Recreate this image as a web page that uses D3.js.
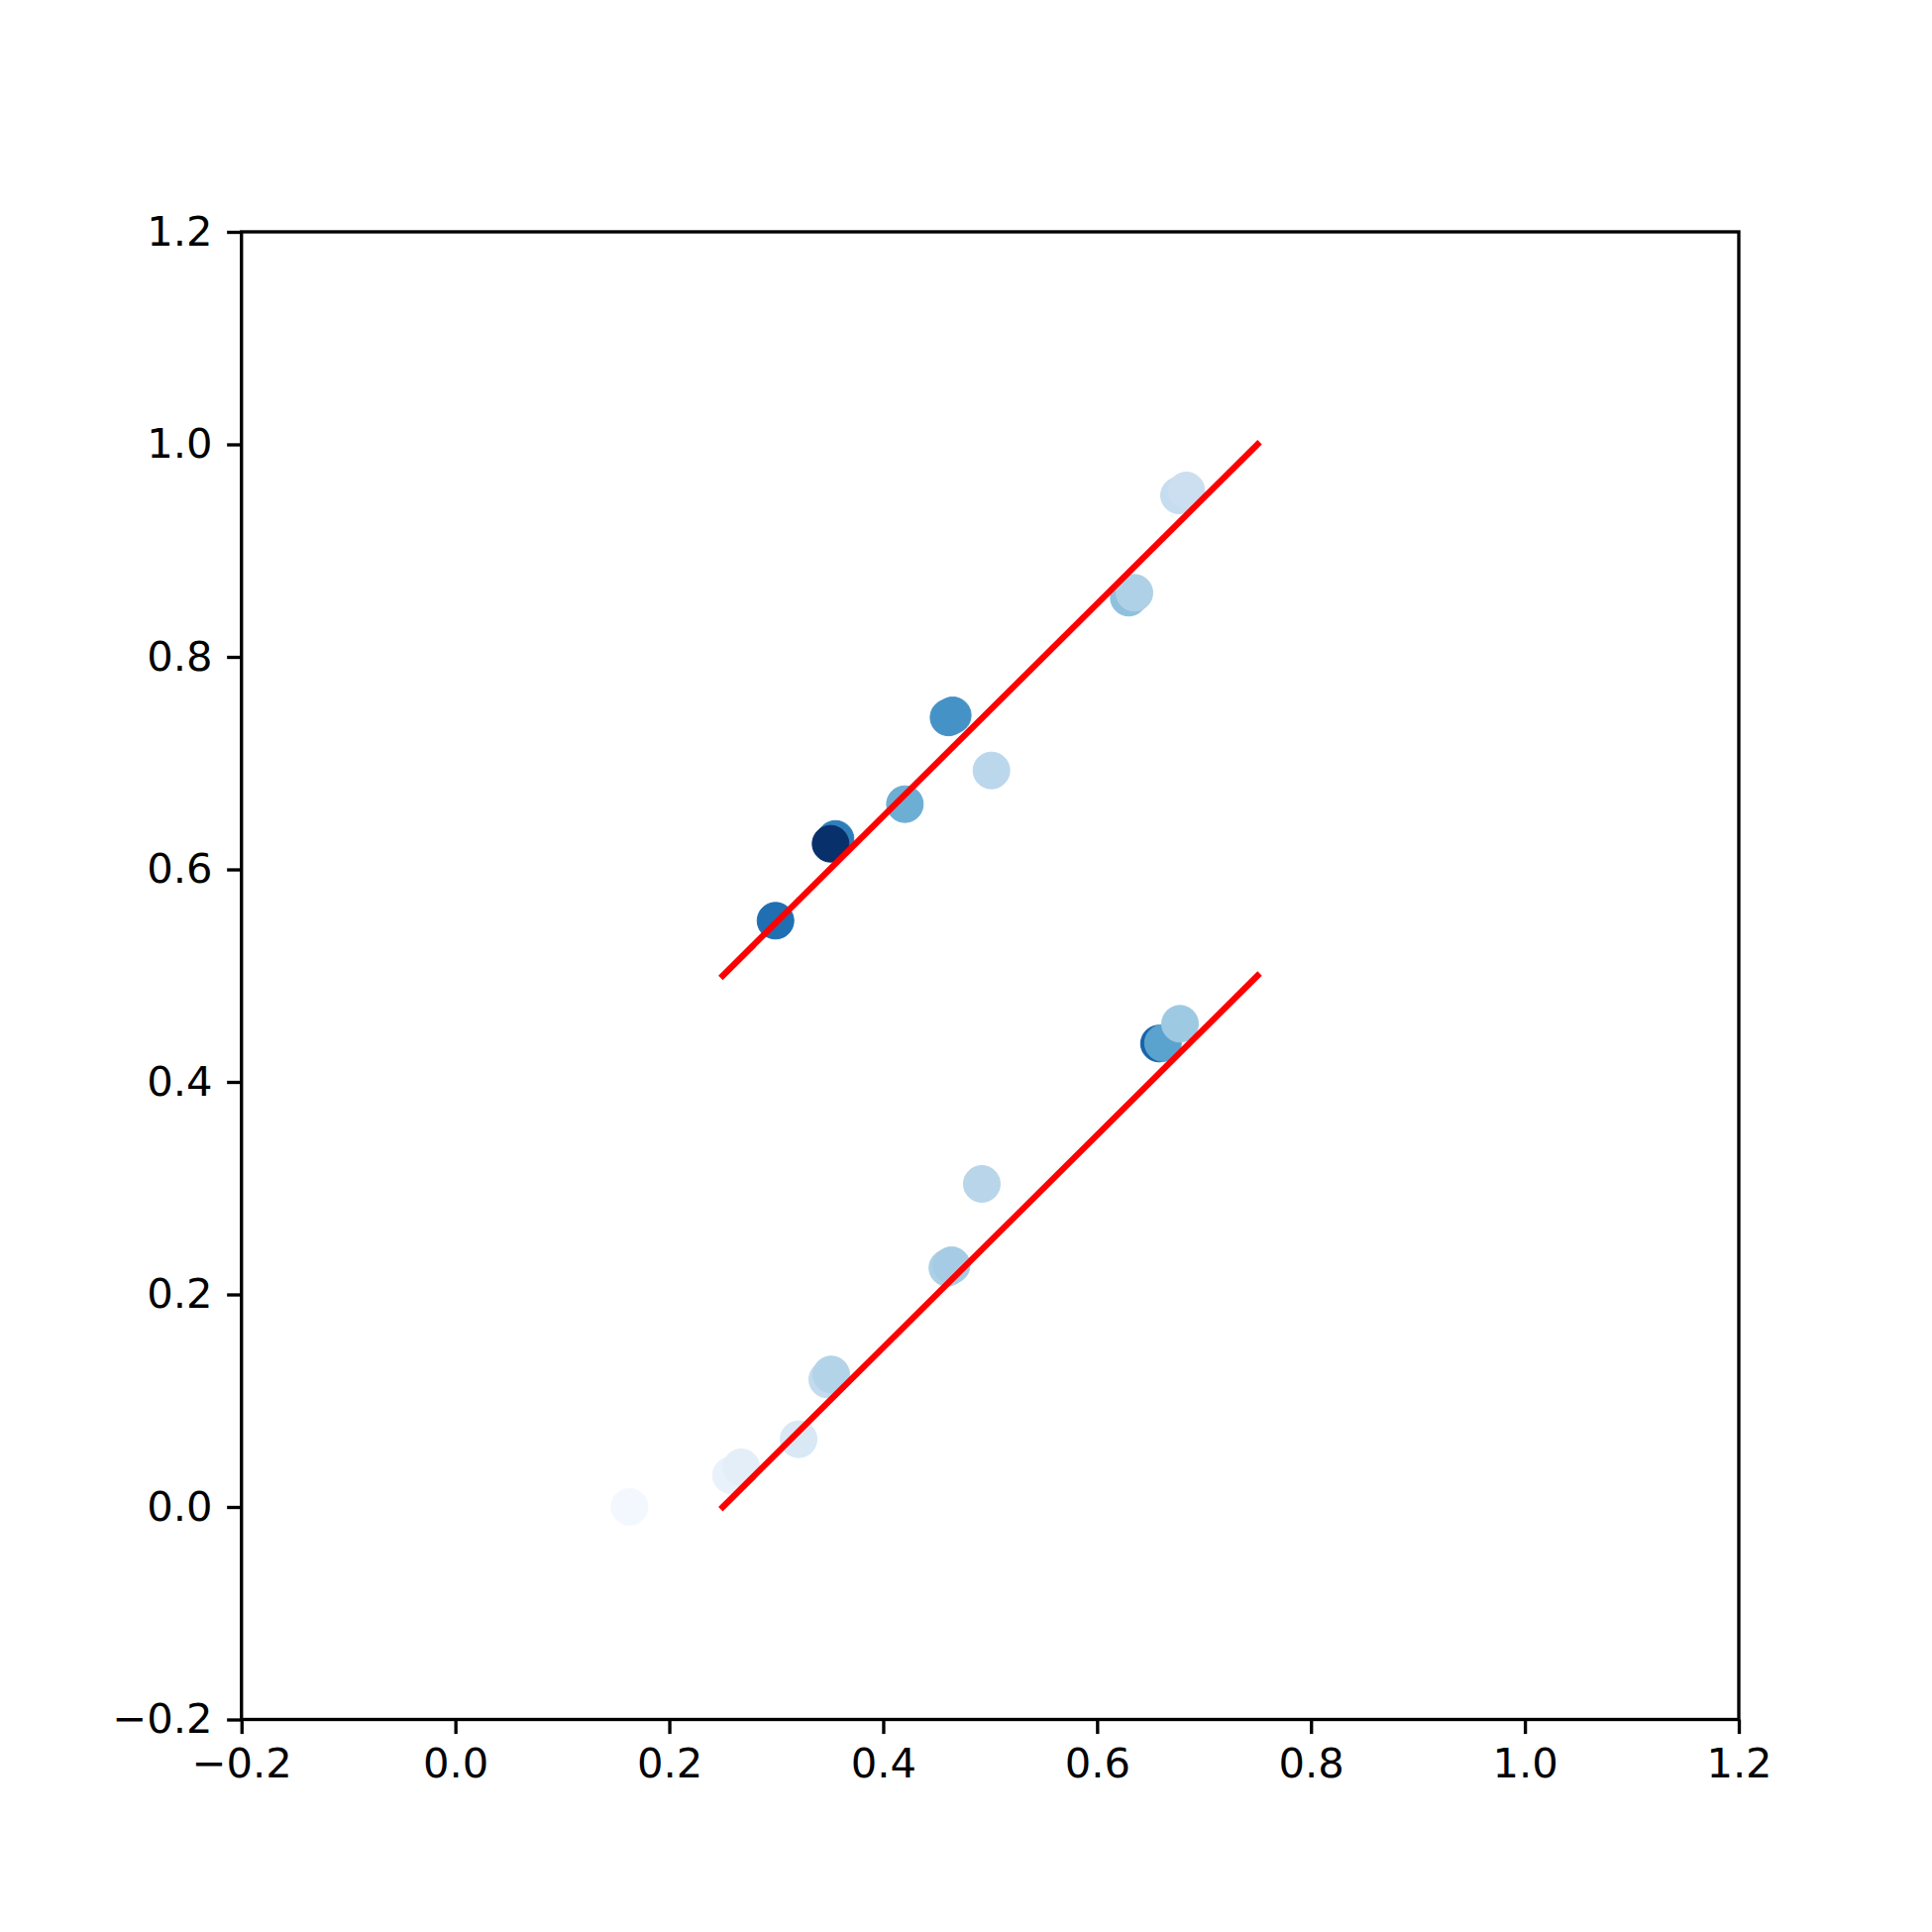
<!DOCTYPE html>
<html>
<head>
<meta charset="utf-8">
<script src="https://cdn.jsdelivr.net/npm/d3@7"></script>
<style>
  html, body { margin: 0; padding: 0; background: #ffffff; }
  svg { display: block; }
  .tick text { font-family: "DejaVu Sans", sans-serif; }
</style>
</head>
<body>
<svg id="chart" width="1950" height="1950"></svg>
<script>
// ---- data ----
const pointX = [0.2993, 0.3554, 0.3508, 0.4203, 0.4611, 0.4650, 0.5012,
                0.6296, 0.6349, 0.6766, 0.6834,
                0.6579, 0.6616, 0.6775,
                0.4922, 0.4600, 0.4640,
                0.3477, 0.3514, 0.3209, 0.2576, 0.2674, 0.1628];
const pointY = [0.5517, 0.6287, 0.6241, 0.6614, 0.7430, 0.7450, 0.6931,
                0.8557, 0.8603, 0.9520, 0.9566,
                0.4361, 0.4366, 0.4547,
                0.3040, 0.2250, 0.2275,
                0.1200, 0.1247, 0.0637, 0.0298, 0.0373, 0.0000];
const pointC = [0.76, 0.70, 1.00, 0.50, 0.62, 0.62, 0.28,
                0.41, 0.32, 0.24, 0.22,
                0.80, 0.55, 0.37,
                0.29, 0.33, 0.35,
                0.25, 0.31, 0.15, 0.07, 0.10, 0.02];
const lineStartX = [0.25, 0.25];
const lineStartY = [0.5, 0.0];
const lineEndX = [0.75, 0.75];
const lineEndY = [1.0, 0.5];
const xTicks = [-0.2, 0.0, 0.2, 0.4, 0.6, 0.8, 1.0, 1.2];
const yTicks = [-0.2, 0.0, 0.2, 0.4, 0.6, 0.8, 1.0, 1.2];

// ---- layout ----
const mLeft = 243.75, mRight = 1755, mTop = 234, mBottom = 1735.5;
const svg = d3.select("#chart");

const x = d3.scaleLinear().domain([-0.2, 1.2]).range([mLeft, mRight]);
const y = d3.scaleLinear().domain([-0.2, 1.2]).range([mBottom, mTop]);
const color = d3.scaleSequential(d3.interpolateBlues).domain([0, 1]);

// clip
svg.append("defs").append("clipPath").attr("id", "clip")
  .append("rect").attr("x", mLeft).attr("y", mTop)
  .attr("width", mRight - mLeft).attr("height", mBottom - mTop);

const plot = svg.append("g").attr("clip-path", "url(#clip)");

// points
const pts = pointX.map((v, i) => ({x: v, y: pointY[i], c: pointC[i]}));
plot.selectAll("circle.pt").data(pts).enter().append("circle")
  .attr("class", "pt")
  .attr("cx", d => x(d.x))
  .attr("cy", d => y(d.y))
  .attr("r", 18.5)
  .attr("fill", d => color(d.c))
  .attr("stroke", d => color(d.c))
  .attr("stroke-width", 1);

// red lines
const lines = lineStartX.map((v, i) => ({x1: v, y1: lineStartY[i], x2: lineEndX[i], y2: lineEndY[i]}));
plot.selectAll("line.fit").data(lines).enter().append("line")
  .attr("class", "fit")
  .attr("x1", d => x(d.x1)).attr("y1", d => y(d.y1))
  .attr("x2", d => x(d.x2)).attr("y2", d => y(d.y2))
  .attr("stroke", "#ff0000")
  .attr("stroke-width", 6.25)
  .attr("stroke-linecap", "square");

// axes
const fmt = d3.format(".1f");
const tickLen = 14.6, tickPad = 14.6;
const xAxis = svg.append("g").attr("transform", `translate(0,${mBottom})`)
  .call(d3.axisBottom(x).tickValues(xTicks).tickFormat(fmt).tickSize(tickLen).tickPadding(tickPad));
const yAxis = svg.append("g").attr("transform", `translate(${mLeft},0)`)
  .call(d3.axisLeft(y).tickValues(yTicks).tickFormat(fmt).tickSize(tickLen).tickPadding(tickPad));

[xAxis, yAxis].forEach(g => {
  g.select(".domain").remove();
  g.selectAll(".tick line").attr("stroke", "#000").attr("stroke-width", 3.33);
  g.selectAll(".tick text").attr("fill", "#000").attr("font-size", "41.67px")
    .attr("font-family", "DejaVu Sans, sans-serif");
});

// frame
svg.append("rect")
  .attr("x", mLeft).attr("y", mTop)
  .attr("width", mRight - mLeft).attr("height", mBottom - mTop)
  .attr("fill", "none").attr("stroke", "#000").attr("stroke-width", 3.33)
  .attr("stroke-linejoin", "miter");
</script>
</body>
</html>
